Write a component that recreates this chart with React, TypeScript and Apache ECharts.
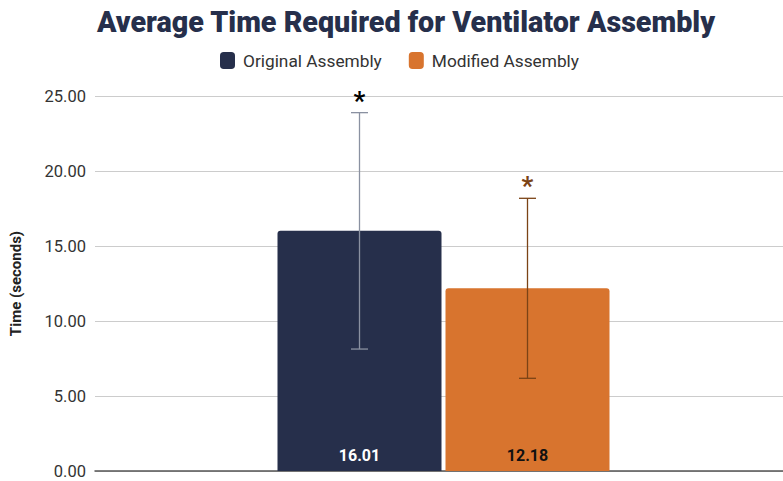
import React, { useEffect, useRef } from "react";
import * as echarts from "echarts";

const categories = [""];
const seriesNames = ["Original Assembly", "Modified Assembly"];
const originalValues = [16.01];
const modifiedValues = [12.18];
const originalErrors = [7.88];
const modifiedErrors = [6.0];
const yTicks = [0, 5, 10, 15, 20, 25];

const NAVY = "#262f4b";
const ORANGE = "#d8742e";
const BAR_W = 164;
const GAP = 4;

function errorSeries(values: number[], errors: number[], offset: number, lineColor: string, starColor: string) {
  return {
    type: "custom",
    silent: true,
    z: 10,
    data: values.map((v, i) => [i, v - errors[i], v + errors[i]]),
    renderItem: (params: any, api: any) => {
      const x = api.coord([api.value(0), 0])[0] + offset;
      const lo = api.coord([api.value(0), api.value(1)])[1];
      const hi = api.coord([api.value(0), api.value(2)])[1];
      const cap = 8.5;
      const style = { stroke: lineColor, lineWidth: 1.3 };
      return {
        type: "group",
        children: [
          { type: "line", shape: { x1: x, y1: lo, x2: x, y2: hi }, style },
          { type: "line", shape: { x1: x - cap, y1: hi, x2: x + cap, y2: hi }, style },
          { type: "line", shape: { x1: x - cap, y1: lo, x2: x + cap, y2: lo }, style },
          {
            type: "text",
            x,
            y: hi + 1,
            style: {
              text: "*",
              fill: starColor,
              font: "bold 26px Roboto",
              align: "center",
              verticalAlign: "bottom",
            },
          },
        ],
      };
    },
  };
}

export default function App() {
  const ref = useRef<HTMLDivElement>(null);
  useEffect(() => {
    if (!ref.current) return;
    const chart = echarts.init(ref.current, null, { renderer: "svg" });
    chart.setOption({
      animation: false,
      backgroundColor: "#ffffff",
      title: {
        text: "Average Time Required for Ventilator Assembly",
        left: 401,
        textAlign: "center",
        top: 2,
        textStyle: { fontFamily: "Roboto", fontWeight: 900, fontSize: 28.7, color: "#262f4b" },
      },
      legend: {
        data: seriesNames,
        top: 47,
        left: 215,
        itemWidth: 15,
        itemHeight: 17,
        itemGap: 27,
        icon: "roundRect",
        textStyle: { fontFamily: "Roboto", fontSize: 17.3, color: "#333", padding: [0, 0, 0, 3] },
      },
      grid: { left: 92, right: 0, top: 96, bottom: 10, containLabel: false },
      xAxis: {
        type: "category",
        data: categories,
        axisLine: { lineStyle: { color: "#555", width: 1.5 } },
        axisTick: { show: false },
        axisLabel: { show: false },
      },
      yAxis: {
        type: "value",
        min: yTicks[0],
        max: yTicks[yTicks.length - 1],
        interval: 5,
        name: "Time (seconds)",
        nameLocation: "middle",
        nameGap: 72,
        nameTextStyle: { fontFamily: "Roboto", fontWeight: "bold", fontSize: 15, color: "#222" },
        axisLabel: {
          formatter: (v: number) => v.toFixed(2),
          fontFamily: "Roboto",
          fontSize: 16.5,
          color: "#333",
          margin: 9,
        },
        splitLine: { lineStyle: { color: "#cccccc", width: 1 } },
        axisLine: { show: false },
        axisTick: { show: false },
      },
      series: [
        {
          name: seriesNames[0],
          type: "bar",
          data: originalValues,
          barWidth: BAR_W,
          barGap: (GAP / BAR_W) * 100 + "%",
          itemStyle: { color: NAVY, borderRadius: [3, 3, 0, 0] },
          label: {
            show: true,
            position: "insideBottom",
            distance: 8,
            formatter: (p: any) => p.value.toFixed(2),
            fontFamily: "Roboto",
            fontWeight: "bold",
            fontSize: 16,
            color: "#ffffff",
          },
        },
        {
          name: seriesNames[1],
          type: "bar",
          data: modifiedValues,
          barWidth: BAR_W,
          itemStyle: { color: ORANGE, borderRadius: [3, 3, 0, 0] },
          label: {
            show: true,
            position: "insideBottom",
            distance: 8,
            formatter: (p: any) => p.value.toFixed(2),
            fontFamily: "Roboto",
            fontWeight: "bold",
            fontSize: 16,
            color: "#111111",
          },
        },
        errorSeries(originalValues, originalErrors, -(BAR_W + GAP) / 2, "#8a91a1", "#000000"),
        errorSeries(modifiedValues, modifiedErrors, (BAR_W + GAP) / 2, "#7b4316", "#7b4316"),
      ],
    });
    return () => chart.dispose();
  }, []);
  return (
    <div style={{ position: "fixed", left: 0, top: 0, width: 783, height: 481, overflow: "hidden" }}>
      <div ref={ref} style={{ width: 792, height: 481 }} />
    </div>
  );
}
